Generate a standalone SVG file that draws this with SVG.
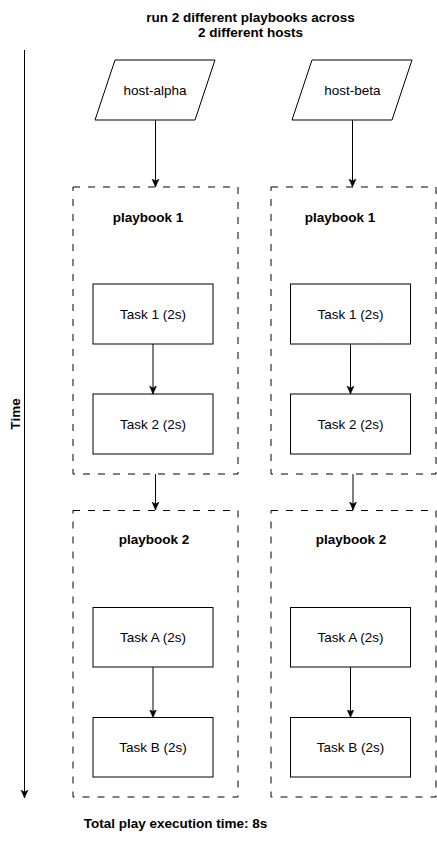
<svg xmlns="http://www.w3.org/2000/svg" width="437" height="841" viewBox="0 0 437 841">
<style>
  .bg{fill:#ffffff}
  .box{fill:#ffffff;stroke:#000000;stroke-width:1}
  .group{fill:none;stroke:#000000;stroke-width:1;stroke-dasharray:7 8}
  .edge{fill:none;stroke:#000000;stroke-width:1}
  .t{font-family:"Liberation Sans",Arial,Helvetica,sans-serif;font-size:13.5px;fill:#000000;text-anchor:middle}
  .b{font-weight:bold}
</style>
<defs>
  <marker id="arrow" markerUnits="userSpaceOnUse" markerWidth="10" markerHeight="10" viewBox="0 0 10 10" refX="8" refY="5" orient="auto">
    <path d="M0,1.5 L8,5 L0,8.5 L2,5 Z" fill="#000000" stroke="#000000" stroke-width="0.5"/>
  </marker>
</defs>
<rect class="bg" x="0" y="0" width="437" height="841"/>

<g id="title">
  <text class="t b" x="250.5" y="21.5" font-size="14">run 2 different playbooks across</text>
  <text class="t b" x="250.5" y="37" font-size="14">2 different hosts</text>
</g>

<g id="time-axis">
  <line class="edge" x1="24.5" y1="50" x2="24.5" y2="798" marker-end="url(#arrow)"/>
  <text class="t b" transform="translate(19.5,414) rotate(-90)" x="0" y="0">Time</text>
</g>

<g id="host-alpha">
  <polygon class="box" points="115,60 215,60 195,120 95,120"/>
  <text class="t" x="155" y="94.5">host-alpha</text>
</g>
<g id="host-beta">
  <polygon class="box" points="312,60 412,60 392,120 292,120"/>
  <text class="t" x="352.5" y="94.5">host-beta</text>
</g>

<g id="alpha-playbook1">
  <rect class="group" x="73" y="187" width="165" height="287"/>
  <text class="t b" x="148" y="221.5">playbook 1</text>
</g>
<g id="beta-playbook1">
  <rect class="group" x="271" y="187" width="165" height="287"/>
  <text class="t b" x="340" y="221.5">playbook 1</text>
</g>
<g id="alpha-playbook2">
  <rect class="group" x="73" y="510.5" width="165" height="286.5"/>
  <text class="t b" x="154" y="544">playbook 2</text>
</g>
<g id="beta-playbook2">
  <rect class="group" x="271" y="510.5" width="165" height="286.5"/>
  <text class="t b" x="351" y="544">playbook 2</text>
</g>

<g id="alpha-task1">
  <rect class="box" x="93" y="284" width="120" height="60"/>
  <text class="t" x="153" y="318.5">Task 1 (2s)</text>
</g>
<g id="alpha-task2">
  <rect class="box" x="93" y="394" width="120" height="60"/>
  <text class="t" x="153" y="428.5">Task 2 (2s)</text>
</g>
<g id="beta-task1">
  <rect class="box" x="290.5" y="284" width="120" height="60"/>
  <text class="t" x="350.5" y="318.5">Task 1 (2s)</text>
</g>
<g id="beta-task2">
  <rect class="box" x="290.5" y="394" width="120" height="60"/>
  <text class="t" x="350.5" y="428.5">Task 2 (2s)</text>
</g>
<g id="alpha-taskA">
  <rect class="box" x="93" y="607.5" width="120" height="59.5"/>
  <text class="t" x="153" y="641.5">Task A (2s)</text>
</g>
<g id="alpha-taskB">
  <rect class="box" x="93" y="717.5" width="120" height="59.5"/>
  <text class="t" x="153" y="751.5">Task B (2s)</text>
</g>
<g id="beta-taskA">
  <rect class="box" x="290.5" y="607.5" width="120" height="59.5"/>
  <text class="t" x="350.5" y="641.5">Task A (2s)</text>
</g>
<g id="beta-taskB">
  <rect class="box" x="290.5" y="717.5" width="120" height="59.5"/>
  <text class="t" x="350.5" y="751.5">Task B (2s)</text>
</g>

<g id="footer">
  <text class="t b" x="175.5" y="828">Total play execution time: 8s</text>
</g>

<g id="connectors">
  <line class="edge" x1="155.5" y1="120" x2="155.5" y2="187" marker-end="url(#arrow)"/>
  <line class="edge" x1="352.5" y1="120" x2="352.5" y2="187" marker-end="url(#arrow)"/>
  <line class="edge" x1="155.5" y1="474" x2="155.5" y2="510" marker-end="url(#arrow)"/>
  <line class="edge" x1="353" y1="474" x2="353" y2="510" marker-end="url(#arrow)"/>
  <line class="edge" x1="153" y1="344" x2="153" y2="394" marker-end="url(#arrow)"/>
  <line class="edge" x1="350.5" y1="344" x2="350.5" y2="394" marker-end="url(#arrow)"/>
  <line class="edge" x1="153" y1="667" x2="153" y2="717.5" marker-end="url(#arrow)"/>
  <line class="edge" x1="350.5" y1="667" x2="350.5" y2="717.5" marker-end="url(#arrow)"/>
</g>
</svg>
